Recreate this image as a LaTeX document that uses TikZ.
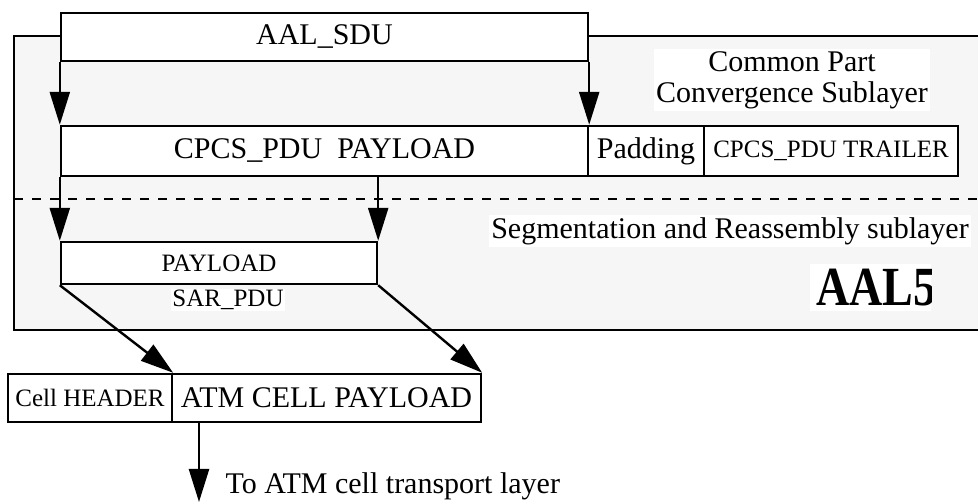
\documentclass[tikz,border=0pt]{standalone}
\usepackage{fontspec}
\setmainfont{Liberation Serif}
\usetikzlibrary{arrows.meta, calc}
\definecolor{layergray}{RGB}{246,246,246}

\begin{document}
\begin{tikzpicture}[x=1pt, y=-1pt]
 \tikzstyle{box}=[rectangle, draw, line width=2.4pt, fill=white, inner sep=0pt, font=\fontsize{30}{34}\selectfont]
 \tikzstyle{smallbox}=[box, font=\fontsize{25}{28}\selectfont]
 \tikzstyle{lbl}=[fill=white, inner sep=2pt, align=center, font=\fontsize{30}{31}\selectfont]
 \tikzstyle{arr}=[-{Triangle[length=33pt, width=20pt]}, line width=2.4pt]

 \useasboundingbox (0,0) rectangle (978,502);

 % Layer frame
 \fill [layergray] (14,36) rectangle (990,330);
 \draw [line width=2.4pt] (990,36) -- (14,36) -- (14,330) -- (990,330);
 \draw [line width=2pt, dash pattern=on 9pt off 9pt] (14,199) -- (978,199);

 % Convergence sublayer
 \node (nsdu) at (324.5,37) [box, minimum width=527pt, minimum height=48pt] {AAL\_SDU};
 \node (ncpcslbl) at (792,80) [lbl] {Common Part\\Convergence Sublayer};

 \node (ncpcspay) at (324.5,151) [box, minimum width=527pt, minimum height=50pt] {CPCS\_PDU\ \ PAYLOAD};
 \node (npadding) at (646,151) [box, minimum width=116pt, minimum height=50pt] {Padding};
 \node (ntrailer) at (831,151) [smallbox, minimum width=254pt, minimum height=50pt] {CPCS\_PDU TRAILER};

 % SAR sublayer
 \node (nsarlbl) at (730,231) [lbl] {Segmentation and Reassembly sublayer};
 \node (nsarpay) at (219,263) [smallbox, minimum width=316pt, minimum height=42pt] {PAYLOAD};
 \node (nsarpdu) at (228,300) [lbl, inner sep=1pt, font=\fontsize{25}{28}\selectfont] {SAR\_PDU};
 \begin{scope}
  \fill [white] (810,264) rectangle (931,311);
  \clip (810,264) rectangle (931,311);
  \node (naal) at (814,287.5) [lbl, anchor=west, inner sep=2pt, yscale=1.2, transform shape, font=\fontsize{46}{48}\selectfont\bfseries] {AAL5};
 \end{scope}

 % ATM cell
 \node (ncellhdr) at (90,398) [smallbox, minimum width=164pt, minimum height=48pt] {Cell HEADER};
 \node (ncellpay) at (326.5,398) [box, minimum width=309pt, minimum height=48pt] {ATM CELL PAYLOAD};

 \coordinate (nout) at (199,502);
 \node (noutlbl) at (222,486) [anchor=west, font=\fontsize{30}{31}\selectfont] {To ATM cell transport layer};

 % SDU into CPCS
 \draw [arr] (nsdu.south west) -- (ncpcspay.north west);
 \draw [arr] (nsdu.south east) -- (ncpcspay.north east);

 % CPCS into SAR
 \draw [arr] (ncpcspay.south west) -- (nsarpay.north west);
 \draw [arr] (nsarpay.north east |- ncpcspay.south) -- (nsarpay.north east);

 % SAR into cell
 \draw [arr] (nsarpay.south west) -- (ncellhdr.north east);
 \draw [arr] (nsarpay.south east) -- (ncellpay.north east);

 % Cell down
 \draw [arr] (nout |- ncellpay.south) -- (nout);

\end{tikzpicture}
\end{document}
